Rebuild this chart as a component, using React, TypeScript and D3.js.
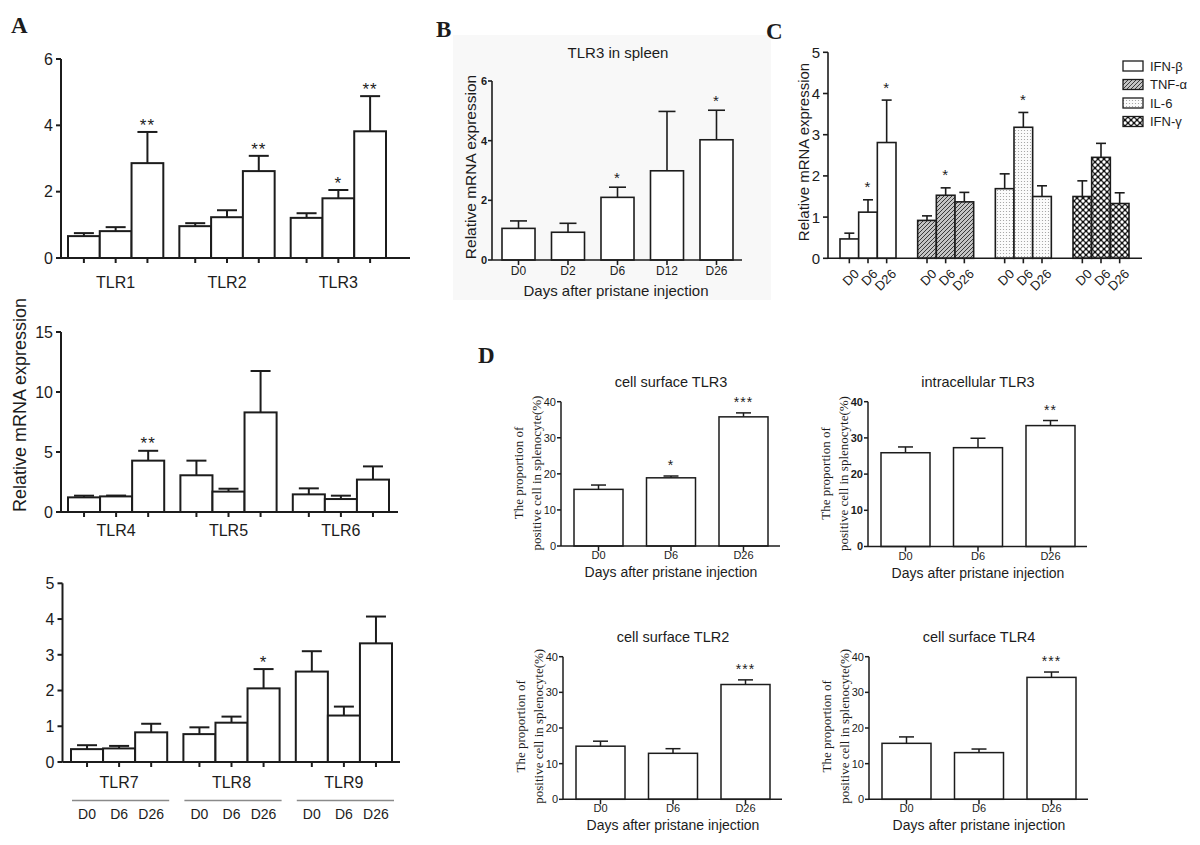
import React from "react";
import * as d3 from "d3";

const SANS = "'Liberation Sans', Arial, Helvetica, sans-serif";
const SERIF = "'Liberation Serif', 'Times New Roman', Times, serif";
const INK = "#1c1c1c";

// ---------- Panel A ----------
const daysA = ["D0", "D6", "D26"];
const tlrGroup1 = ["TLR1", "TLR2", "TLR3"];
const tlrGroup1Mean = [[0.66, 0.81, 2.86], [0.96, 1.23, 2.62], [1.21, 1.8, 3.82]];
const tlrGroup1Sem = [[0.09, 0.12, 0.94], [0.09, 0.21, 0.46], [0.14, 0.25, 1.06]];
const tlrGroup1Sig = [["", "", "**"], ["", "", "**"], ["", "*", "**"]];
const tlrGroup1Ticks = [0, 2, 4, 6];

const tlrGroup2 = ["TLR4", "TLR5", "TLR6"];
const tlrGroup2Mean = [[1.22, 1.3, 4.28], [3.06, 1.7, 8.3], [1.47, 1.08, 2.7]];
const tlrGroup2Sem = [[0.14, 0.07, 0.82], [1.22, 0.24, 3.45], [0.5, 0.28, 1.1]];
const tlrGroup2Sig = [["", "", "**"], ["", "", ""], ["", "", ""]];
const tlrGroup2Ticks = [0, 5, 10, 15];

const tlrGroup3 = ["TLR7", "TLR8", "TLR9"];
const tlrGroup3Mean = [[0.36, 0.38, 0.83], [0.78, 1.1, 2.06], [2.53, 1.3, 3.32]];
const tlrGroup3Sem = [[0.11, 0.07, 0.24], [0.19, 0.17, 0.54], [0.57, 0.25, 0.75]];
const tlrGroup3Sig = [["", "", ""], ["", "", "*"], ["", "", ""]];
const tlrGroup3Ticks = [0, 1, 2, 3, 4, 5];

// ---------- Panel B ----------
const daysB = ["D0", "D2", "D6", "D12", "D26"];
const spleenMean = [1.06, 0.93, 2.1, 2.99, 4.03];
const spleenSem = [0.25, 0.3, 0.34, 1.99, 0.99];
const spleenSig = ["", "", "*", "", "*"];
const spleenTicks = [0, 2, 4, 6];

// ---------- Panel C ----------
const cytokines = ["IFN-β", "TNF-α", "IL-6", "IFN-γ"];
const cytoMean = [[0.47, 1.12, 2.81], [0.92, 1.53, 1.37], [1.69, 3.18, 1.5], [1.5, 2.45, 1.33]];
const cytoSem = [[0.14, 0.3, 1.03], [0.11, 0.18, 0.23], [0.36, 0.36, 0.26], [0.38, 0.34, 0.26]];
const cytoSig = [["", "*", "*"], ["", "*", ""], ["", "*", ""], ["", "", ""]];
const cytoTicks = [0, 1, 2, 3, 4, 5];

// ---------- Panel D ----------
const daysD = ["D0", "D6", "D26"];
const flowTitles = ["cell surface TLR3", "intracellular TLR3", "cell surface TLR2", "cell surface TLR4"];
const flowMean = [[15.7, 18.9, 35.8], [25.9, 27.3, 33.4], [14.9, 12.9, 32.2], [15.7, 13.1, 34.2]];
const flowSem = [[1.2, 0.5, 1.1], [1.6, 2.6, 1.4], [1.4, 1.3, 1.3], [1.8, 1.0, 1.5]];
const flowSig = [["", "*", "***"], ["", "", "**"], ["", "", "***"], ["", "", "***"]];
const flowTicks = [0, 10, 20, 30, 40];

const cytoFills = ["#ffffff", "url(#hatch)", "url(#dots)", "url(#lattice)"];

function barMarks(key: string, bx: number, bw: number, y: any, y0: number, m: number, e: number,
  fill: string, sw: number, capW: number, sig: string, starGap: number, starFont: number) {
  const cx = bx + bw / 2;
  const top = y(m + e);
  return (
    <g key={key}>
      <line x1={cx} x2={cx} y1={y(m)} y2={top} stroke={INK} strokeWidth={sw} />
      <line x1={cx - capW / 2} x2={cx + capW / 2} y1={top} y2={top} stroke={INK} strokeWidth={sw} />
      <rect x={bx} y={y(m)} width={bw} height={y0 - y(m)} fill={fill} stroke={INK} strokeWidth={sw} />
      <line x1={cx} x2={cx} y1={y0} y2={y0 + 5} stroke={INK} strokeWidth={sw} />
      {sig ? (
        <text x={cx} y={top - starGap + 0.57 * starFont} textAnchor="middle" fontSize={starFont}
          fontFamily={SANS} fill={INK} letterSpacing={1}>{sig}</text>
      ) : null}
    </g>
  );
}

function yAxis(y: any, ticks: number[], axisX: number, y0: number, y1: number, font: number,
  bold: boolean, sw: number, tickLen: number, gap: number) {
  return (
    <g>
      <line x1={axisX} x2={axisX} y1={y0} y2={y1} stroke={INK} strokeWidth={sw} />
      {ticks.map((t) => (
        <g key={t}>
          <line x1={axisX - tickLen} x2={axisX} y1={y(t)} y2={y(t)} stroke={INK} strokeWidth={sw} />
          <text x={axisX - gap} y={y(t)} dy="0.36em" textAnchor="end" fontSize={font}
            fontWeight={bold ? "bold" : "normal"} fontFamily={SANS} fill={INK}>{t}</text>
        </g>
      ))}
    </g>
  );
}

type GP = {
  groups: string[]; subs: string[]; mean: number[][]; sem: number[][]; sig: string[][];
  ticks: number[]; yMax: number; axisX: number; axisEnd: number; y0: number; y1: number;
  bandStart: number; bandEnd: number; padInner: number; sw: number; capW: number;
  tickFont: number; fills?: string[]; groupLabelY?: number; groupFont?: number;
  subMode?: "under" | "rotated"; subY?: number; subFont?: number; lineY?: number;
  starGap: number; starFont: number;
};

function GroupPanel(p: GP) {
  const y = d3.scaleLinear().domain([0, p.yMax]).range([p.y0, p.y1]);
  const xg = d3.scaleBand().domain(p.groups).range([p.bandStart, p.bandEnd]).paddingInner(p.padInner);
  const xs = d3.scaleBand().domain(p.subs).range([0, xg.bandwidth()]);
  return (
    <g>
      {p.groups.map((g, gi) => {
        const gx = xg(g)!;
        return (
          <g key={g}>
            {p.subs.map((s, si) =>
              barMarks(s, gx + xs(s)!, xs.bandwidth(), y, p.y0, p.mean[gi][si], p.sem[gi][si],
                p.fills ? p.fills[gi] : "#fff", p.sw, p.capW, p.sig[gi][si], p.starGap, p.starFont))}
            {p.groupLabelY !== undefined ? (
              <text x={gx + xg.bandwidth() / 2} y={p.groupLabelY} textAnchor="middle"
                fontSize={p.groupFont} fontFamily={SANS} fill={INK}>{g}</text>
            ) : null}
            {p.subMode === "under" ? (
              <g>
                <line x1={gx + 1} x2={gx + xg.bandwidth() + 2} y1={p.lineY} y2={p.lineY} stroke="#8a8a8a" strokeWidth={1.6} />
                {p.subs.map((s) => (
                  <text key={s} x={gx + xs(s)! + xs.bandwidth() / 2} y={p.subY} textAnchor="middle"
                    fontSize={p.subFont} fontFamily={SANS} fill={INK}>{s}</text>
                ))}
              </g>
            ) : null}
            {p.subMode === "rotated" ? (
              <g>
                {p.subs.map((s) => {
                  const cx = gx + xs(s)! + xs.bandwidth() / 2 + 4;
                  return (
                    <text key={s} transform={`translate(${cx},${p.y0 + 10}) rotate(-45)`} textAnchor="end"
                      dy="0.7em" fontSize={p.subFont} fontFamily={SANS} fill={INK}>{s}</text>
                  );
                })}
              </g>
            ) : null}
          </g>
        );
      })}
      <line x1={p.axisX} x2={p.axisEnd} y1={p.y0} y2={p.y0} stroke={INK} strokeWidth={p.sw} />
      {yAxis(y, p.ticks, p.axisX, p.y0, p.y1, p.tickFont, false, p.sw, 5, 8)}
    </g>
  );
}

type SP = {
  cats: string[]; mean: number[]; sem: number[]; sig: string[]; ticks: number[]; yMax: number;
  axisX: number; axisEnd: number; y0: number; y1: number; bandStart: number; bandEnd: number;
  padInner: number; sw: number; capW: number; tickFont: number; tickBold: boolean;
  catFont: number; catY: number; starGap: number; starFont: number;
};

function SimplePanel(p: SP) {
  const y = d3.scaleLinear().domain([0, p.yMax]).range([p.y0, p.y1]);
  const x = d3.scaleBand().domain(p.cats).range([p.bandStart, p.bandEnd]).paddingInner(p.padInner);
  return (
    <g>
      {p.cats.map((c, i) => (
        <g key={c}>
          {barMarks(c, x(c)!, x.bandwidth(), y, p.y0, p.mean[i], p.sem[i], "#fff", p.sw, p.capW, p.sig[i], p.starGap, p.starFont)}
          <text x={x(c)! + x.bandwidth() / 2} y={p.catY} textAnchor="middle" fontSize={p.catFont}
            fontFamily={SANS} fill={INK}>{c}</text>
        </g>
      ))}
      <line x1={p.axisX} x2={p.axisEnd} y1={p.y0} y2={p.y0} stroke={INK} strokeWidth={p.sw} />
      {yAxis(y, p.ticks, p.axisX, p.y0, p.y1, p.tickFont, p.tickBold, p.sw, 4, 5)}
    </g>
  );
}

function RotLabel({ x, y, text, size, family }: { x: number; y: number; text: string; size: number; family: string }) {
  return (
    <text transform={`translate(${x},${y}) rotate(-90)`} textAnchor="middle" dominantBaseline="central"
      fontSize={size} fontFamily={family} fill={INK}>{text}</text>
  );
}

const flowLayout = [
  { axisX: 561, y0: 546, y1: 401.7 },
  { axisX: 868, y0: 546.5, y1: 401.7 },
  { axisX: 563, y0: 799.3, y1: 656.7 },
  { axisX: 869, y0: 799.3, y1: 656.7 },
];

export default function App() {
  return (
    <svg width={1200} height={845} style={{ position: "absolute", left: 0, top: 0, background: "#fff" }}>
      <defs>
        <pattern id="hatch" patternUnits="userSpaceOnUse" width="4" height="4">
          <rect width="4" height="4" fill="#c4c4c4" />
          <path d="M-1,1 l2,-2 M0,4 l4,-4 M3,5 l2,-2" stroke="#2a2a2a" strokeWidth="0.9" />
        </pattern>
        <pattern id="dots" patternUnits="userSpaceOnUse" width="3" height="3">
          <rect width="3" height="3" fill="#fbfbfb" />
          <circle cx="1.5" cy="1.5" r="0.6" fill="#9a9a9a" />
        </pattern>
        <pattern id="lattice" patternUnits="userSpaceOnUse" width="6" height="6">
          <rect width="6" height="6" fill="#111" />
          <circle cx="0" cy="0" r="1.7" fill="#fff" />
          <circle cx="6" cy="0" r="1.7" fill="#fff" />
          <circle cx="0" cy="6" r="1.7" fill="#fff" />
          <circle cx="6" cy="6" r="1.7" fill="#fff" />
          <circle cx="3" cy="3" r="1.7" fill="#fff" />
        </pattern>
      </defs>
      <rect x={0} y={0} width={1200} height={845} fill="#fff" />
      <rect x={453} y={35} width={318} height={265} fill="#f8f8f8" />

      {/* Panel letters */}
      <text x={11} y={33} fontSize={23} fontWeight="bold" fontFamily={SERIF} fill={INK}>A</text>
      <text x={436} y={37} fontSize={23} fontWeight="bold" fontFamily={SERIF} fill={INK}>B</text>
      <text x={766} y={39} fontSize={23} fontWeight="bold" fontFamily={SERIF} fill={INK}>C</text>
      <text x={478} y={363} fontSize={23} fontWeight="bold" fontFamily={SERIF} fill={INK}>D</text>

      {/* Panel A */}
      <GroupPanel groups={tlrGroup1} subs={daysA} mean={tlrGroup1Mean} sem={tlrGroup1Sem} sig={tlrGroup1Sig}
        ticks={tlrGroup1Ticks} yMax={6} axisX={61} axisEnd={410} y0={258} y1={59}
        bandStart={68} bandEnd={386} padInner={0.144} sw={2} capW={20} tickFont={16}
        groupLabelY={288} groupFont={16} starGap={11} starFont={17} />
      <GroupPanel groups={tlrGroup2} subs={daysA} mean={tlrGroup2Mean} sem={tlrGroup2Sem} sig={tlrGroup2Sig}
        ticks={tlrGroup2Ticks} yMax={15} axisX={61} axisEnd={398} y0={512} y1={332}
        bandStart={68} bandEnd={389} padInner={0.144} sw={2} capW={20} tickFont={16}
        groupLabelY={536} groupFont={16} starGap={11} starFont={17} />
      <GroupPanel groups={tlrGroup3} subs={daysA} mean={tlrGroup3Mean} sem={tlrGroup3Sem} sig={tlrGroup3Sig}
        ticks={tlrGroup3Ticks} yMax={5} axisX={62.5} axisEnd={400} y0={762} y1={583.3}
        bandStart={71} bandEnd={392} padInner={0.144} sw={2} capW={20} tickFont={16}
        groupLabelY={788} groupFont={16} subMode="under" lineY={800.5} subY={819} subFont={14}
        starGap={11} starFont={17} />
      <RotLabel x={20} y={405} text="Relative mRNA expression" size={18} family={SANS} />

      {/* Panel B */}
      <text x={618} y={58} textAnchor="middle" fontSize={15} fontFamily={SANS} fill={INK}>TLR3 in spleen</text>
      <SimplePanel cats={daysB} mean={spleenMean} sem={spleenSem} sig={spleenSig} ticks={spleenTicks} yMax={6}
        axisX={492} axisEnd={742} y0={260} y1={81} bandStart={502} bandEnd={733} padInner={0.333}
        sw={1.6} capW={17} tickFont={11} tickBold={true} catFont={12} catY={274.5} starGap={13} starFont={15} />
      <RotLabel x={470} y={167} text="Relative mRNA expression" size={15.5} family={SANS} />
      <text x={616} y={296} textAnchor="middle" fontSize={15} fontFamily={SANS} fill={INK}>Days after pristane injection</text>

      {/* Panel C */}
      <GroupPanel groups={cytokines} subs={daysA} mean={cytoMean} sem={cytoSem} sig={cytoSig}
        ticks={cytoTicks} yMax={5} axisX={828} axisEnd={1142} y0={258.3} y1={52.3}
        bandStart={840} bandEnd={1129} padInner={0.279} sw={1.6} capW={10} tickFont={15}
        fills={cytoFills} subMode="rotated" subFont={13} starGap={16} starFont={15} />
      <RotLabel x={803} y={152} text="Relative mRNA expression" size={15} family={SANS} />
      {cytokines.map((c, i) => (
        <g key={c}>
          <rect x={1123} y={61 + i * 18.5} width={20} height={10} fill={cytoFills[i]} stroke={INK} strokeWidth={1.3} />
          <text x={1150} y={70.5 + i * 18.5} fontSize={13} fontFamily={SANS} fill={INK}>{c}</text>
        </g>
      ))}

      {/* Panel D */}
      {flowTitles.map((t, i) => {
        const L = flowLayout[i];
        const cx = L.axisX + 110;
        return (
          <g key={t}>
            <text x={cx} y={L.y1 - 15} textAnchor="middle" fontSize={14.5} fontFamily={SANS} fill={INK}>{t}</text>
            <SimplePanel cats={daysD} mean={flowMean[i]} sem={flowSem[i]} sig={flowSig[i]} ticks={flowTicks}
              yMax={40} axisX={L.axisX} axisEnd={L.axisX + 219} y0={L.y0} y1={L.y1}
              bandStart={L.axisX + 13} bandEnd={L.axisX + 207} padInner={0.324} sw={1.5} capW={15}
              tickFont={11} tickBold={i === 1} catFont={11} catY={L.y0 + 13} starGap={14} starFont={14} />
            <text x={cx} y={L.y0 + 31} textAnchor="middle" fontSize={14} fontFamily={SANS} fill={INK}>Days after pristane injection</text>
            <RotLabel x={L.axisX - 43} y={L.y0 - 73} text="The proportion of" size={13} family={SERIF} />
            <RotLabel x={L.axisX - 25} y={L.y0 - 73} text="positive cell in splenocyte(%)" size={13} family={SERIF} />
          </g>
        );
      })}
    </svg>
  );
}
